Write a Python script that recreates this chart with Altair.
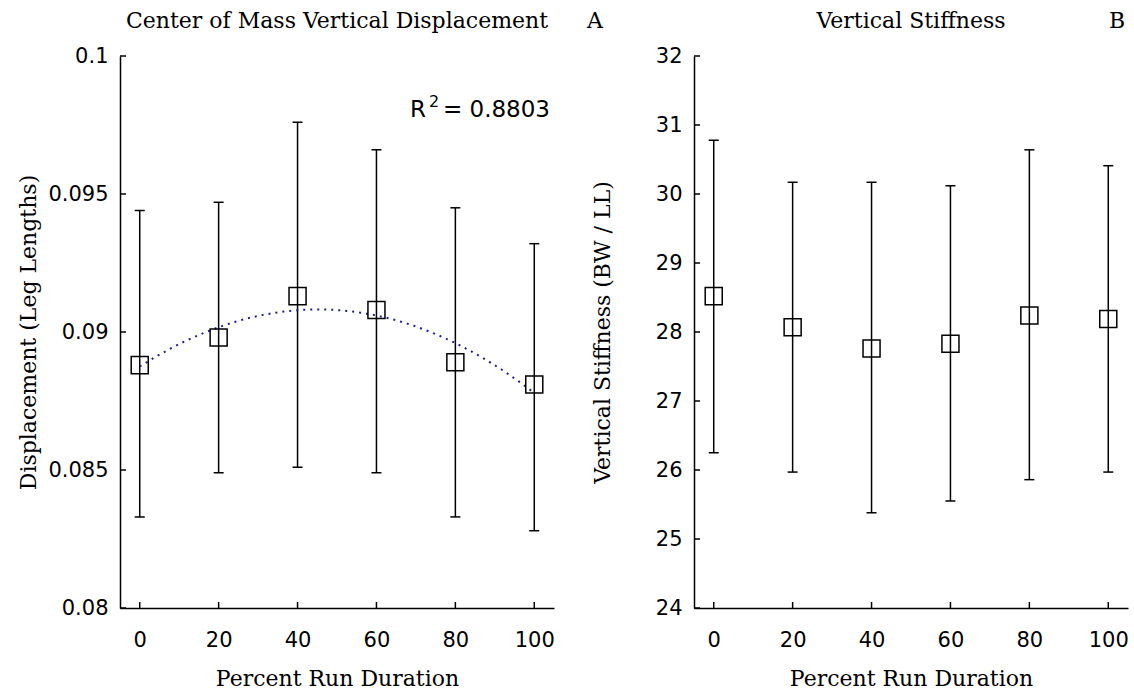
import altair as alt
import pandas as pd

# ---- data ----
pct = [0, 20, 40, 60, 80, 100]

disp_mean = [0.0888, 0.0898, 0.0913, 0.0908, 0.0889, 0.0881]
disp_lo = [0.0833, 0.0849, 0.0851, 0.0849, 0.0833, 0.0828]
disp_hi = [0.0944, 0.0947, 0.0976, 0.0966, 0.0945, 0.0932]

stiff_mean = [28.52, 28.07, 27.76, 27.83, 28.24, 28.19]
stiff_lo = [26.25, 25.97, 25.38, 25.55, 25.86, 25.97]
stiff_hi = [30.78, 30.17, 30.17, 30.12, 30.64, 30.41]

x_ticks = [0, 20, 40, 60, 80, 100]
disp_ticks = [0.08, 0.085, 0.09, 0.095, 0.1]
stiff_ticks = [24, 25, 26, 27, 28, 29, 30, 31, 32]

W, H = 434, 552
SERIF = "DejaVu Serif"
SANS = "DejaVu Sans"


def text_layer(txt, x, y, size, font=SERIF, align="center", baseline="middle"):
    return alt.Chart(pd.DataFrame({"t": [txt]})).mark_text(
        font=font, fontSize=size, color="black", align=align, baseline=baseline
    ).encode(text="t:N", x=alt.value(x), y=alt.value(y))


def panel(mean, lo, hi, ydomain, yticks, ytitle, title, letter, letter_x, fit=False):
    df = pd.DataFrame({"pct": pct, "mean": mean, "lo": lo, "hi": hi})
    xs = alt.Scale(domain=[-5, 105], nice=False, zero=False)
    ys = alt.Scale(domain=ydomain, nice=False, zero=False)
    xaxis = alt.Axis(
        values=x_ticks, title="Percent Run Duration", grid=False, ticks=False,
        domain=True, domainColor="black", domainWidth=1.5,
        labelFont=SANS, labelFontSize=21, labelColor="black", labelPadding=21,
        labelFlush=False, labelOverlap=False,
        titleFont=SERIF, titleFontSize=22, titleFontWeight="normal", titleColor="black",
        titleX=W / 2, titleY=70, titleBaseline="middle", titleAlign="center",
    )
    yaxis = alt.Axis(
        values=yticks, format="~g", title=ytitle, grid=False, ticks=False,
        domain=True, domainColor="black", domainWidth=1.5,
        labelFont=SANS, labelFontSize=21, labelColor="black", labelPadding=12,
        labelFlush=False, labelOverlap=False,
        titleFont=SERIF, titleFontSize=22, titleFontWeight="normal", titleColor="black",
        titleX=-92, titleY=H / 2, titleAngle=270, titleBaseline="middle", titleAlign="center",
    )

    def X(f):
        return alt.X(f, scale=xs, axis=xaxis)

    def Y(f):
        return alt.Y(f, scale=ys, axis=yaxis)

    base = alt.Chart(df)
    bars = base.mark_rule(color="black", strokeWidth=1.5).encode(
        x=X("pct:Q"), y=Y("lo:Q"), y2="hi:Q"
    )
    cap_lo = base.mark_tick(orient="horizontal", color="black", size=10, thickness=1.5, opacity=1).encode(
        x=X("pct:Q"), y=Y("lo:Q")
    )
    cap_hi = base.mark_tick(orient="horizontal", color="black", size=10, thickness=1.5, opacity=1).encode(
        x=X("pct:Q"), y=Y("hi:Q")
    )
    squares = base.mark_point(shape="square", filled=False, size=290, color="black",
                              strokeWidth=1.5, opacity=1).encode(x=X("pct:Q"), y=Y("mean:Q"))
    ytk = alt.Chart(pd.DataFrame({"v": yticks})).mark_rule(color="black", strokeWidth=1.5).encode(
        y=Y("v:Q"), x=alt.value(0), x2=alt.value(6)
    )
    xtk = alt.Chart(pd.DataFrame({"v": x_ticks})).mark_rule(color="black", strokeWidth=1.5).encode(
        x=X("v:Q"), y=alt.value(H), y2=alt.value(H - 6)
    )
    layers = [bars, cap_lo, cap_hi, ytk, xtk]
    if fit:
        curve = base.transform_regression(
            "pct", "mean", method="poly", order=2, extent=[0, 100]
        ).mark_line(color="#1f1f8c", strokeDash=[2, 5], strokeWidth=2).encode(
            x=X("pct:Q"), y=Y("mean:Q")
        )
        layers.append(curve)
        layers += [
            text_layer("R", 290, 61, 23, font=SANS, align="left", baseline="alphabetic"),
            text_layer("2", 309, 51, 16, font=SANS, align="left", baseline="alphabetic"),
            text_layer("= 0.8803", 430, 61, 23, font=SANS, align="right", baseline="alphabetic"),
        ]
    layers.append(squares)
    layers.append(text_layer(title, W / 2, -35, 22))
    layers.append(text_layer(letter, letter_x, -35, 22))
    return alt.layer(*layers).properties(width=W, height=H)


left = panel(disp_mean, disp_lo, disp_hi, [0.08, 0.1], disp_ticks,
             "Displacement (Leg Lengths)", "Center of Mass Vertical Displacement",
             "A", 475, fit=True)
right = panel(stiff_mean, stiff_lo, stiff_hi, [24, 32], stiff_ticks,
              "Vertical Stiffness (BW / LL)", "Vertical Stiffness", "B", 423)

chart = alt.hconcat(left, right, spacing=140, bounds="flush").properties(
    padding={"left": 17, "top": 10, "right": 0, "bottom": 0},
    background="white",
).configure_view(stroke=None)

chart.save("out.html", embed_options={"renderer": "svg", "actions": False})
